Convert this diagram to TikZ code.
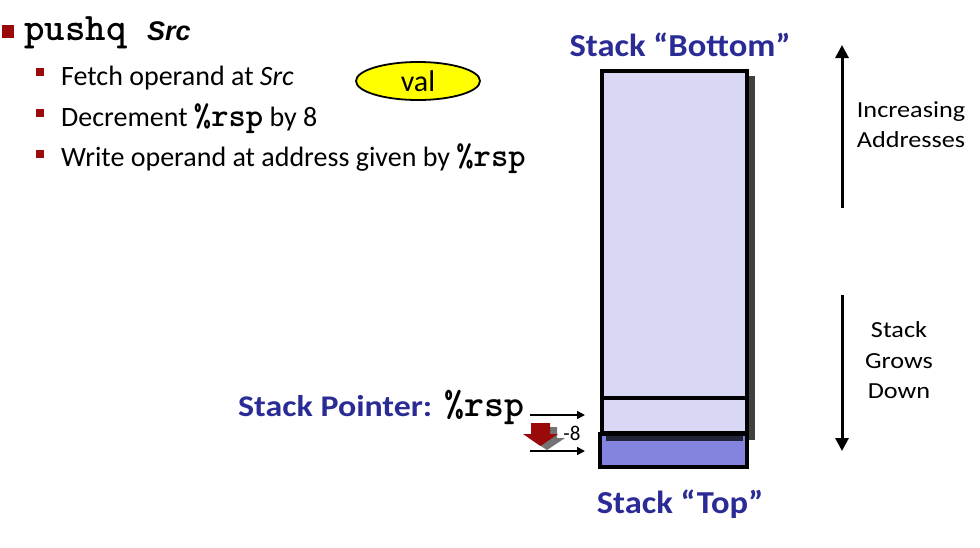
\documentclass[tikz,border=0pt]{standalone}
\usepackage{fontspec}
\usepackage{graphicx}
\setmainfont{Carlito}
\newfontfamily\arialf{Liberation Sans}
\usetikzlibrary{arrows.meta,shapes.geometric}
\definecolor{bul}{RGB}{155,10,10}
\definecolor{ttl}{RGB}{43,43,150}
\definecolor{lav}{RGB}{216,216,244}
\definecolor{newc}{RGB}{132,132,224}
\definecolor{shd}{RGB}{64,64,64}
\definecolor{ylw}{RGB}{255,255,0}
\definecolor{darkstrip}{RGB}{34,34,56}
\newcommand\hsc[2]{\scalebox{#1}[1]{#2}}
\tikzset{
  body/.style={inner sep=0pt,anchor=base west,font=\fontsize{28}{30}\selectfont},
  ctext/.style={inner sep=0pt,align=center,font=\fontsize{23}{31}\selectfont},
  title/.style={inner sep=0pt,anchor=base,text=ttl,font=\fontsize{32}{34}\selectfont\bfseries},
  smallbul/.style={fill=bul},
  thickarr/.style={line width=3pt,-{Triangle[length=13pt,width=13pt]}},
  thinarr/.style={line width=1.6pt,-{Triangle[length=8pt,width=8pt]}},
  cell/.style={draw=black,line width=4pt}
}
\begin{document}
\begin{tikzpicture}[x=1pt,y=-1pt]
\useasboundingbox (0,0) rectangle (980,547);
% main bullet
\fill[bul] (2,25) rectangle (14,38);
\node[inner sep=0pt,anchor=base west,font=\ttfamily\bfseries\fontsize{39}{40}\selectfont] (push) at (24,40) {pushq};
\node[inner sep=0pt,anchor=base west,font=\arialf\bfseries\itshape\fontsize{27}{30}\selectfont] (src) at (147,40) {Src};
% sub bullets
\fill[smallbul] (36,68) rectangle (44,76);
\fill[smallbul] (36,109) rectangle (44,117);
\fill[smallbul] (36,150) rectangle (44,158);
\node[body] (l1) at (61,85) {Fetch operand at \textit{Src}};
\node[body] (l2) at (61,126) {Decrement {\ttfamily\bfseries\fontsize{33}{30}\selectfont \%rsp} by 8};
\node[body] (l3) at (61,166) {Write operand at address given by {\ttfamily\bfseries\fontsize{33}{30}\selectfont \%rsp}};
% val ellipse
\node[ellipse,draw=black,line width=1.8pt,fill=ylw,minimum width=124pt,minimum height=38pt,inner sep=0pt,font=\fontsize{30}{30}\selectfont] (val) at (418,81) {val};
% stack shadow
\fill[shd] (749,76) rectangle (755,440);
% stack cells
\draw[cell,fill=lav] (602,71) rectangle (747,398);
\draw[cell,fill=lav] (602,398) rectangle (747,433);
\draw[cell,fill=newc] (600,434) rectangle (747,467);
\fill[darkstrip] (606,436) rectangle (743,441);
\coordinate (c2) at (585,415);
\coordinate (c3) at (585,451);
% titles
\node[title] (bottom) at (680,56) {\hsc{1.08}{Stack “Bottom”}};
\node[title] (top) at (680,513) {\hsc{1.08}{Stack “Top”}};
% increasing addresses
\coordinate (ua) at (842,208);
\coordinate (ub) at (842,45);
\draw[thickarr] (ua) -- (ub);
\node[ctext,anchor=base] (inc) at (911,117) {\hsc{1.14}{Increasing}};
\node[ctext,anchor=base] (inc2) at (911,147) {\hsc{1.14}{Addresses}};
\coordinate (da) at (842,295);
\coordinate (db) at (842,451);
\draw[thickarr] (da) -- (db);
\node[ctext,anchor=base] (g1) at (899,337) {\hsc{1.14}{Stack}};
\node[ctext,anchor=base] (g2) at (899,368) {\hsc{1.14}{Grows}};
\node[ctext,anchor=base] (g3) at (899,398) {\hsc{1.14}{Down}};
% stack pointer
\node[inner sep=0pt,anchor=base west,text=ttl,font=\fontsize{30}{30}\selectfont\bfseries] (sp) at (238,416)
  {\hsc{1.13}{Stack Pointer:}};
\node[inner sep=0pt,anchor=base west,font=\ttfamily\bfseries\fontsize{38}{38}\selectfont] (rsp) at (444,416) {\%rsp};
\coordinate (p1) at (530,415);
\coordinate (p2) at (530,451);
\draw[thinarr] (p1) -- (c2);
\draw[thinarr] (p2) -- (c3);
% red block arrow with shadow
\fill[black!55] (538,427) -- (557,427) -- (557,438) -- (565,438) -- (547,450) -- (529,438) -- (538,438) -- cycle;
\fill[bul] (531,423) -- (550,423) -- (550,434) -- (558,434) -- (540.5,446) -- (523,434) -- (531,434) -- cycle;
\node[inner sep=0pt,font=\fontsize{21}{22}\selectfont] (m8) at (572,433) {-8};
\end{tikzpicture}
\end{document}
